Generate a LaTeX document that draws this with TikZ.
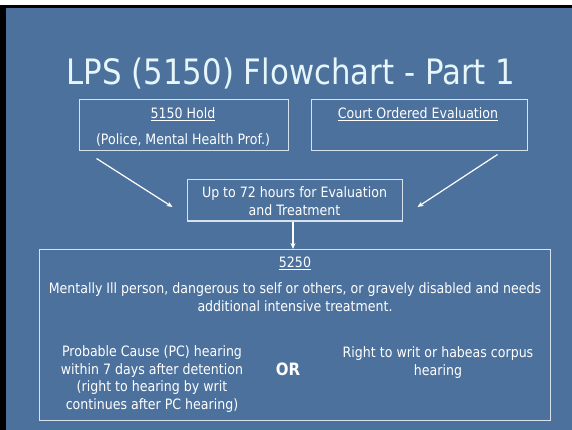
\documentclass[tikz,border=0pt]{standalone}
\usepackage{fontspec}
\setmainfont{DejaVu Sans}[FakeStretch=0.88]
\usetikzlibrary{arrows.meta,positioning}
\definecolor{slideblue}{HTML}{4C719D}
\definecolor{titlecol}{HTML}{E6F6FA}
\definecolor{boxline}{HTML}{D6E2EE}
\tikzset{
    panel/.style={draw=boxline, line width=1pt, inner sep=0pt},
    txt/.style={text=white, font=\fontsize{14.3}{17.4}\selectfont, align=center, inner sep=0pt},
    head/.style={text=titlecol, font=\fontsize{35}{40}\selectfont, inner sep=0pt},
    ortext/.style={text=white, font=\fontsize{17}{20}\selectfont\bfseries, inner sep=0pt},
    flow/.style={draw=white, line width=1.2pt, -{Stealth[length=6pt,width=5pt]}},
}

\begin{document}
\begin{tikzpicture}[x=1pt, y=-1pt]
    % Slide background
    \useasboundingbox (0,0) rectangle (572,430);
    \fill[white] (0,0) rectangle (572,5);
    \fill[black] (0,5) rectangle (572,8);
    \fill[black] (0,8) rectangle (6,430);
    \fill[slideblue] (6,8) rectangle (572,430);

    % Title
    \node[head] (title) at (291,74) {LPS (5150) Flowchart - Part 1};

    % 5150 hold
    \node[panel, minimum width=209pt, minimum height=51pt] (hold) at (183.5,125.5) {};
    \node[txt] (holdA) at (183,114) {\underline{5150 Hold}};
    \node[txt] (holdB) at (183,140) {(Police, Mental Health Prof.)};

    % Court ordered evaluation
    \node[panel, minimum width=216pt, minimum height=51pt] (court) at (419,125.5) {};
    \node[txt] (courtA) at (418,114) {\underline{Court Ordered Evaluation}};

    % 72 hours
    \node[panel, minimum width=215pt, minimum height=41pt] (eval) at (294.5,200.5) {};
    \node[txt] (evalA) at (294.5,201) {Up to 72 hours for Evaluation\\and Treatment};

    % 5250
    \node[panel, minimum width=511pt, minimum height=170.5pt] (cert) at (295,334.75) {};
    \node[txt] (certA) at (295,263) {\underline{5250}};
    \node[txt] (certB) at (295,297) {Mentally Ill person, dangerous to self or others, or gravely disabled and needs\\additional intensive treatment.};
    \node[txt] (pc) at (152,379) {Probable Cause (PC) hearing\\within 7 days after detention\\(right to hearing by writ\\continues after PC hearing)};
    \node[ortext] (or) at (288,369.5) {OR};
    \node[txt] (writ) at (438,362.5) {Right to writ or habeas corpus\\hearing};

    % Arrows
    \draw[flow] ([shift={(18,7)}]hold.south west) -- ([shift={(-14,6.5)}]eval.west);
    \draw[flow] ([shift={(-30,3)}]court.south east) -- ([shift={(15,6.5)}]eval.east);
    \draw[flow] ([xshift=-1.5pt]eval.south) -- ([xshift=-2pt]cert.north);
\end{tikzpicture}
\end{document}
